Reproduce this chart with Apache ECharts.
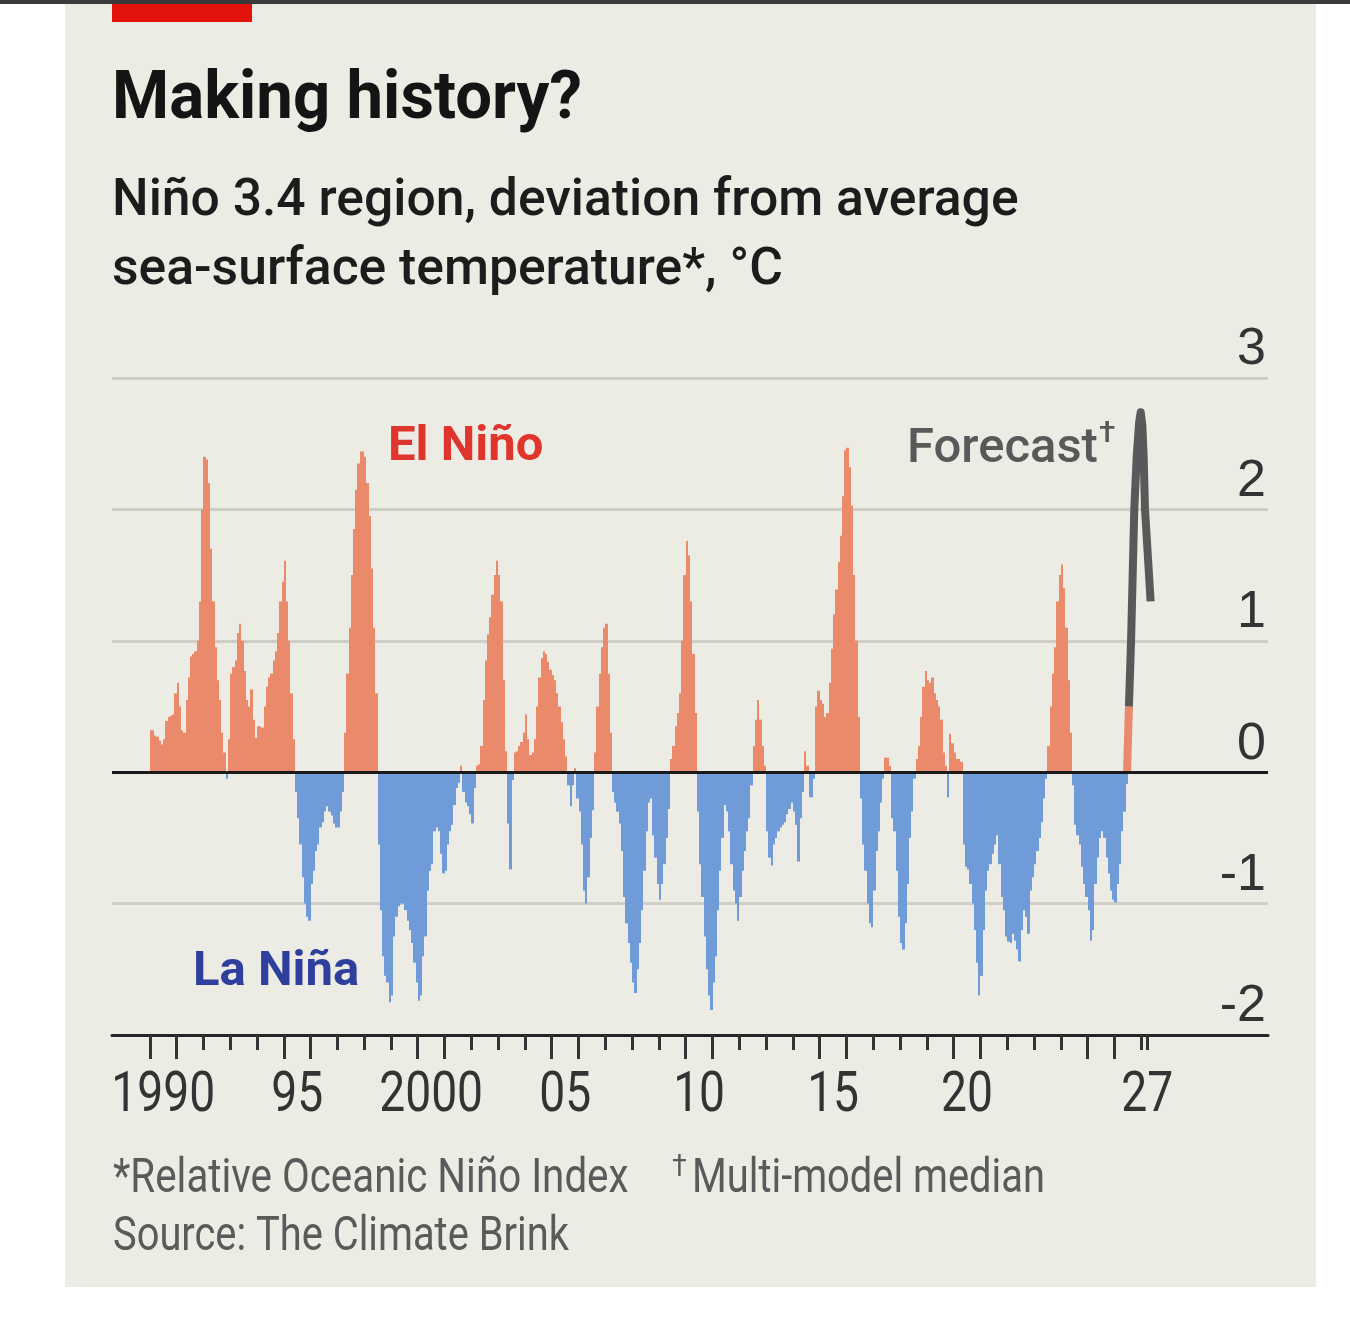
<!DOCTYPE html>
<html>
<head>
<meta charset="utf-8">
<title>Making history?</title>
<script src="https://cdn.jsdelivr.net/npm/echarts@6/dist/echarts.min.js"></script>
<style>
  html, body { margin: 0; padding: 0; background: #fff; }
  #chart { width: 1350px; height: 1322px; }
</style>
</head>
<body>
<div id="chart"></div>
<script>
// Relative Oceanic Nino Index, monthly, starting January of each decade
var oni1990s = [
  0.32, 0.32, 0.28, 0.27, 0.24, 0.21, 0.25, 0.39, 0.42, 0.43, 0.44, 0.6,
  0.68, 0.5, 0.32, 0.3, 0.55, 0.72, 0.88, 0.9, 0.92, 1.0, 1.3, 2.0,
  2.4, 2.38, 2.2, 1.7, 1.3, 0.95, 0.7, 0.55, 0.3, 0.15, -0.05, 0.25,
  0.75, 0.8, 0.85, 1.06, 1.13, 1.0, 0.77, 0.55, 0.5, 0.63, 0.4, 0.26,
  0.35, 0.35, 0.34, 0.5, 0.65, 0.72, 0.75, 0.85, 0.92, 1.06, 1.3, 1.45,
  1.61, 1.3, 1.0, 0.6, 0.25, -0.15, -0.35, -0.55, -0.8, -1.0, -1.1, -1.13,
  -0.85, -0.75, -0.6, -0.55, -0.42, -0.38, -0.3, -0.26, -0.3, -0.33, -0.39, -0.42,
  -0.42, -0.3, -0.15, 0.3, 0.75, 1.1, 1.5, 1.85, 2.15, 2.35, 2.44, 2.44,
  2.4, 2.2, 1.95, 1.55, 1.1, 0.6, -0.55, -1.05, -1.4, -1.55, -1.6, -1.75,
  -1.7, -1.25, -1.1, -1.02, -1.0, -1.0, -1.05, -1.13, -1.2, -1.3, -1.45, -1.6
]
var oni2000s = [
  -1.74, -1.7, -1.4, -1.25, -0.9, -0.75, -0.7, -0.45, -0.42, -0.45, -0.62, -0.77,
  -0.75, -0.55, -0.45, -0.4, -0.25, -0.12, -0.08, 0.05, -0.15, -0.23, -0.26, -0.32,
  -0.39, -0.12, 0.05, 0.06, 0.2, 0.55, 0.85, 1.05, 1.18, 1.35, 1.5, 1.61,
  1.5, 1.3, 0.7, 0.16, -0.39, -0.74, -0.06, 0.15, 0.16, 0.2, 0.23, 0.3,
  0.44, 0.25, 0.13, 0.15, 0.25, 0.5, 0.72, 0.87, 0.92, 0.9, 0.84, 0.78,
  0.74, 0.7, 0.6, 0.5, 0.38, 0.25, 0.12, -0.1, -0.26, -0.1, 0.03, -0.2,
  -0.3, -0.55, -0.9, -1.0, -0.8, -0.5, -0.29, 0.15, 0.5, 0.75, 0.95, 1.1,
  1.13, 0.75, 0.3, -0.15, -0.23, -0.3, -0.39, -0.6, -0.95, -1.15, -1.3, -1.45,
  -1.6, -1.68, -1.5, -1.3, -1.05, -0.75, -0.45, -0.23, -0.2, -0.48, -0.65, -0.85,
  -0.97, -0.85, -0.7, -0.5, -0.28, 0.1, 0.2, 0.35, 0.45, 0.6, 1.0, 1.5
]
var oni2010s = [
  1.76, 1.65, 1.3, 0.9, 0.45, -0.3, -0.7, -0.95, -1.25, -1.5, -1.7, -1.81,
  -1.6, -1.4, -1.05, -0.75, -0.5, -0.25, -0.3, -0.45, -0.7, -0.9, -1.0, -1.13,
  -0.95, -0.75, -0.6, -0.45, -0.35, -0.1, 0.2, 0.4, 0.55, 0.4, 0.2, 0.05,
  -0.45, -0.65, -0.71, -0.55, -0.5, -0.45, -0.42, -0.4, -0.38, -0.32, -0.28, -0.23,
  -0.3, -0.4, -0.68, -0.35, -0.15, 0.16, 0.05, -0.19, -0.19, -0.05, 0.5, 0.62,
  0.55, 0.52, 0.42, 0.45, 0.68, 0.94, 1.2, 1.39, 1.6, 1.8, 2.1, 2.45,
  2.47, 2.32, 2.03, 1.5, 1.0, 0.42, -0.2, -0.55, -0.75, -1.0, -1.15, -1.18,
  -0.9, -0.6, -0.45, -0.23, -0.05, 0.11, 0.11, 0.05, -0.35, -0.45, -0.75, -1.1,
  -1.3, -1.35, -1.15, -0.85, -0.5, -0.3, -0.05, 0.1, 0.2, 0.42, 0.65, 0.77,
  0.7, 0.68, 0.72, 0.6, 0.55, 0.5, 0.4, 0.15, 0.05, -0.19, 0.29, 0.22
]
var oni2020s = [
  0.15, 0.1, 0.1, 0.08, -0.55, -0.72, -0.74, -0.85, -1.0, -1.2, -1.45, -1.7,
  -1.55, -1.2, -0.9, -0.75, -0.7, -0.62, -0.55, -0.48, -0.7, -0.95, -1.05, -1.25,
  -1.29, -1.3, -1.23, -1.28, -1.35, -1.44, -1.2, -1.05, -1.1, -1.23, -0.9, -0.8,
  -0.7, -0.6, -0.5, -0.38, -0.2, -0.05, 0.2, 0.5, 0.75, 0.95, 1.3, 1.5,
  1.58, 1.4, 1.1, 0.7, 0.3, -0.1, -0.4, -0.48, -0.55, -0.72, -0.85, -0.95,
  -1.05, -1.28, -1.2, -0.85, -0.65, -0.5, -0.45, -0.5, -0.65, -0.77, -0.9, -0.97,
  -0.99, -0.85, -0.7, -0.45, -0.3, -0.09
]

// latest reading and multi-model median forecast
var recentYears = [2026.47, 2026.54]
var recentValues = [0, 0.5]
var forecastYears = [2026.54, 2026.62, 2026.74, 2026.83, 2026.92, 2026.98, 2027.04, 2027.09, 2027.14, 2027.35]
var forecastValues = [0.5, 1.0, 2.0, 2.4, 2.66, 2.74, 2.64, 2.4, 2.0, 1.3]

// axes
var xLabelYears = [1990.5, 1995.5, 2000.5, 2005.5, 2010.5, 2015.5, 2020.5, 2027.22]
var xLabelText = ['1990', '95', '2000', '05', '10', '15', '20', '27']
var longTickYears = [1990, 1991, 1995, 1996, 2000, 2001, 2005, 2006, 2010, 2011, 2015, 2016, 2020, 2021, 2025, 2026]
var shortTickYears = [1992, 1993, 1994, 1997, 1998, 1999, 2002, 2003, 2004, 2007, 2008, 2009,
  2012, 2013, 2014, 2017, 2018, 2019, 2022, 2023, 2024, 2027, 2027.24]
var yMin = -2
var yMax = 3

;(function () {
  var RED = '#ea8a6b'
  var BLUE = '#6f9bd8'
  var X_MIN = 1988.59
  var X_MAX = 2031.73
  var NARROW = 0.84 // squeeze Roboto to look like the condensed house font

  var allMonths = oni1990s.concat(oni2000s, oni2010s, oni2020s)
  var monthly = allMonths.map(function (v, i) {
    return [1990 + i / 12, v]
  })
  var zip = function (xs, ys) {
    return xs.map(function (x, i) { return [x, ys[i]] })
  }

  // one rectangle per month, from zero to the value, snapped to whole pixels
  var renderMonth = function (params, api) {
    var t = api.value(0)
    var v = api.value(1)
    var a = api.coord([t, 0])
    var b = api.coord([t + 1 / 12, v])
    var x0 = Math.round(a[0])
    var x1 = Math.round(b[0])
    return {
      type: 'rect',
      shape: {
        x: x0,
        y: Math.min(a[1], b[1]),
        width: x1 - x0,
        height: Math.abs(b[1] - a[1])
      },
      style: { fill: v >= 0 ? RED : BLUE }
    }
  }

  // year labels under the axis
  var renderYearLabel = function (params, api) {
    var p = api.coord([api.value(0), yMin])
    return {
      type: 'text',
      x: p[0],
      y: p[1] + 35,
      scaleX: NARROW,
      style: {
        text: xLabelText[params.dataIndex],
        font: '400 55px Roboto',
        fill: '#333',
        align: 'center',
        textAlign: 'center',
        verticalAlign: 'top',
        textVerticalAlign: 'top'
      }
    }
  }

  var myChart = echarts.init(document.getElementById('chart'))

  var txt = function (x, y, text, font, color, sx) {
    return {
      type: 'text',
      x: x,
      y: y,
      z: 10,
      scaleX: sx || 1,
      style: { text: text, font: font, fill: color }
    }
  }

  var option = {
    animation: false,
    backgroundColor: '#ffffff',
    grid: { left: 112, right: 82, top: 378, bottom: 287 },
    graphic: {
      elements: [
        { type: 'rect', z: -10, shape: { x: 65, y: 0, width: 1251, height: 1287 }, style: { fill: '#ecebe4' } },
        { type: 'rect', z: -5, shape: { x: 0, y: 0, width: 1350, height: 4 }, style: { fill: '#3a3a3a' } },
        { type: 'rect', z: -5, shape: { x: 112, y: 4, width: 140, height: 18 }, style: { fill: '#e3120b' } },
        txt(112, 68, 'Making history?', 'bold 67px Roboto', '#141414', 0.975),
        txt(112, 176, 'Niño 3.4 region, deviation from average', '500 52px Roboto', '#1c1c1c', 0.993),
        txt(112, 245, 'sea-surface temperature*, °C', '500 52px Roboto', '#1c1c1c', 0.993),
        txt(388, 423, 'El Niño', 'bold 49px Roboto', '#e0352c'),
        txt(193, 948, 'La Niña', 'bold 49px Roboto', '#2f3f9e'),
        txt(907, 425, 'Forecast', '500 49px Roboto', '#595959'),
        txt(1099, 419, '†', '500 30px Roboto', '#595959'),
        txt(113, 1156, '*Relative Oceanic Niño Index', '48px Roboto', '#5a5a5a', NARROW),
        txt(672, 1152, '†', '32px Roboto', '#5a5a5a', NARROW),
        txt(692, 1156, 'Multi-model median', '48px Roboto', '#5a5a5a', 0.83),
        txt(113, 1214, 'Source: The Climate Brink', '48px Roboto', '#5a5a5a', 0.83)
      ]
    },
    xAxis: [
      {
        type: 'value',
        min: X_MIN,
        max: X_MAX,
        axisLine: { onZero: false, lineStyle: { color: '#262626', width: 3 } },
        axisTick: { show: true, customValues: longTickYears, length: 24, lineStyle: { color: '#333', width: 3 } },
        axisLabel: { show: false },
        splitLine: { show: false }
      },
      {
        type: 'value',
        min: X_MIN,
        max: X_MAX,
        position: 'bottom',
        offset: 0,
        axisLine: { show: false, onZero: false },
        axisTick: { show: true, customValues: shortTickYears, length: 15, lineStyle: { color: '#333', width: 3 } },
        axisLabel: { show: false },
        splitLine: { show: false }
      }
    ],
    yAxis: {
      type: 'value',
      position: 'right',
      min: yMin,
      max: yMax,
      interval: 1,
      axisLine: { show: false },
      axisTick: { show: false },
      splitLine: { lineStyle: { color: '#cfcec6', width: 3 } },
      axisLabel: {
        inside: true,
        margin: 2,
        verticalAlign: 'bottom',
        padding: [0, 0, 2, 0],
        fontFamily: 'Liberation Sans',
        fontSize: 52,
        color: '#333'
      }
    },
    series: [
      {
        type: 'custom',
        name: 'ONI',
        renderItem: renderMonth,
        data: monthly,
        encode: { x: 0, y: 1 },
        z: 2
      },
      {
        type: 'custom',
        name: 'Year labels',
        renderItem: renderYearLabel,
        data: xLabelYears.map(function (y) { return [y, yMin] }),
        encode: { x: 0, y: 1 },
        clip: false,
        silent: true,
        z: 6
      },
      {
        type: 'line',
        name: 'Latest',
        data: zip(recentYears, recentValues),
        symbol: 'none',
        lineStyle: { color: RED, width: 8, cap: 'butt' },
        z: 4
      },
      {
        type: 'line',
        name: 'Forecast',
        data: zip(forecastYears, forecastValues),
        symbol: 'none',
        lineStyle: { color: '#595959', width: 8, cap: 'butt', join: 'round' },
        z: 5,
        markLine: {
          silent: true,
          symbol: ['none', 'none'],
          label: { show: false },
          lineStyle: { color: '#1a1a1a', width: 3, type: 'solid' },
          data: [{ yAxis: 0 }]
        }
      }
    ]
  }

  myChart.setOption(option)
})()
</script>
</body>
</html>
